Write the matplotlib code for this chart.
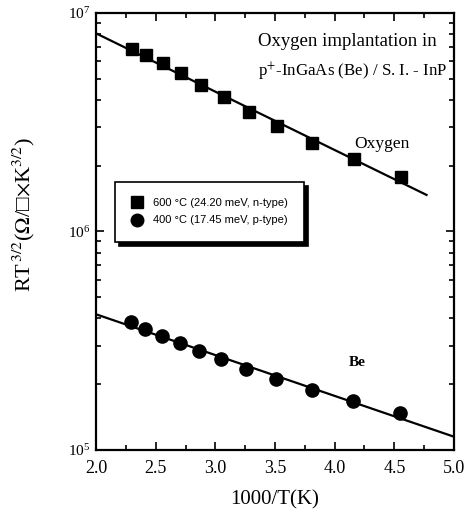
import matplotlib
matplotlib.use("Agg")
import matplotlib.pyplot as plt
from matplotlib.ticker import LogLocator, MultipleLocator, LogFormatterMathtext

plt.rcParams['font.family'] = ['Liberation Serif', 'DejaVu Sans']
plt.rcParams['mathtext.fontset'] = 'stix'

# Data (1000/T in 1/K, RT^{3/2} values)
x_oxy = [2.30, 2.42, 2.56, 2.71, 2.88, 3.07, 3.28, 3.52, 3.81, 4.16, 4.56]
y_oxy = [6.82e6, 6.43e6, 5.89e6, 5.30e6, 4.67e6, 4.11e6, 3.53e6, 3.04e6, 2.55e6, 2.14e6, 1.78e6]
x_be = [2.29, 2.41, 2.55, 2.70, 2.86, 3.05, 3.26, 3.51, 3.81, 4.15, 4.55]
y_be = [3.87e5, 3.58e5, 3.34e5, 3.08e5, 2.84e5, 2.60e5, 2.35e5, 2.11e5, 1.88e5, 1.68e5, 1.47e5]

fit_oxy_x = [2.0, 4.77]
fit_oxy_y = [8.07e6, 1.47e6]
fit_be_x = [2.0, 5.0]
fit_be_y = [4.18e5, 1.15e5]

label_oxy = '600 °C (24.20 meV, n-type)'
label_be = '400 °C (17.45 meV, p-type)'

fig = plt.figure(figsize=(4.69, 5.11), dpi=100)
ax = fig.add_axes([0.2047, 0.1194, 0.7633, 0.8552])

ax.plot(fit_oxy_x, fit_oxy_y, color='black', lw=1.6)
ax.plot(fit_be_x, fit_be_y, color='black', lw=1.6)
ax.plot(x_oxy, y_oxy, 's', color='black', ms=9, label=label_oxy)
ax.plot(x_be, y_be, 'o', color='black', ms=9.5, label=label_be)

ax.set_yscale('log')
ax.set_xlim(2.0, 5.0)
ax.set_ylim(1e5, 1e7)
ax.xaxis.set_major_locator(MultipleLocator(0.5))
ax.xaxis.set_minor_locator(MultipleLocator(0.25))
ax.xaxis.set_major_formatter(matplotlib.ticker.FormatStrFormatter('%.1f'))
ax.yaxis.set_major_locator(LogLocator(base=10, numticks=5))
ax.yaxis.set_minor_locator(LogLocator(base=10, subs=range(2, 10), numticks=20))
ax.yaxis.set_major_formatter(LogFormatterMathtext())
ax.yaxis.set_minor_formatter(matplotlib.ticker.NullFormatter())

ax.tick_params(which='both', direction='in', top=True, right=True, width=1.2)
ax.tick_params(axis='x', labelsize=13, pad=7)
ax.tick_params(axis='y', labelsize=11, pad=4)
ax.tick_params(which='major', length=6)
ax.tick_params(which='minor', length=3.5)
for s in ax.spines.values():
    s.set_linewidth(1.6)

ax.set_xlabel('1000/T(K)', fontsize=15, labelpad=10)
ax.set_ylabel('RT$^{\\,3/2}$($\\mathit{\\Omega}$/\u25a1$\\times$K$^{3/2}$)', fontsize=16)
ax.yaxis.set_label_coords(-0.165, 0.54)

ax.text(0.452, 0.934, 'Oxygen implantation in', transform=ax.transAxes,
        fontsize=13.5, ha='left', va='center')
ax.text(0.452, 0.865, r'p$^{+}$-InGaAs (Be) / S. I. - InP', transform=ax.transAxes,
        fontsize=12.2, ha='left', va='center')
ax.text(0.80, 0.70, 'Oxygen', transform=ax.transAxes, fontsize=12.5, ha='center', va='center')
ax.text(0.73, 0.20, 'Be', transform=ax.transAxes, fontsize=11, ha='center', va='center',
        fontweight='bold')

leg = ax.legend(loc='upper left', bbox_to_anchor=(0.053, 0.613), borderaxespad=0,
                frameon=True, fancybox=False, edgecolor='black',
                shadow={'color': 'black', 'alpha': 1, 'ox': 3, 'oy': -3},
                prop={'family': 'Liberation Sans', 'size': 8},
                handletextpad=1.0, borderpad=1.45, labelspacing=0.65, handlelength=1.0,
                markerscale=0.95)
leg.get_frame().set_linewidth(1.2)

fig.savefig('out.png', dpi=100)
